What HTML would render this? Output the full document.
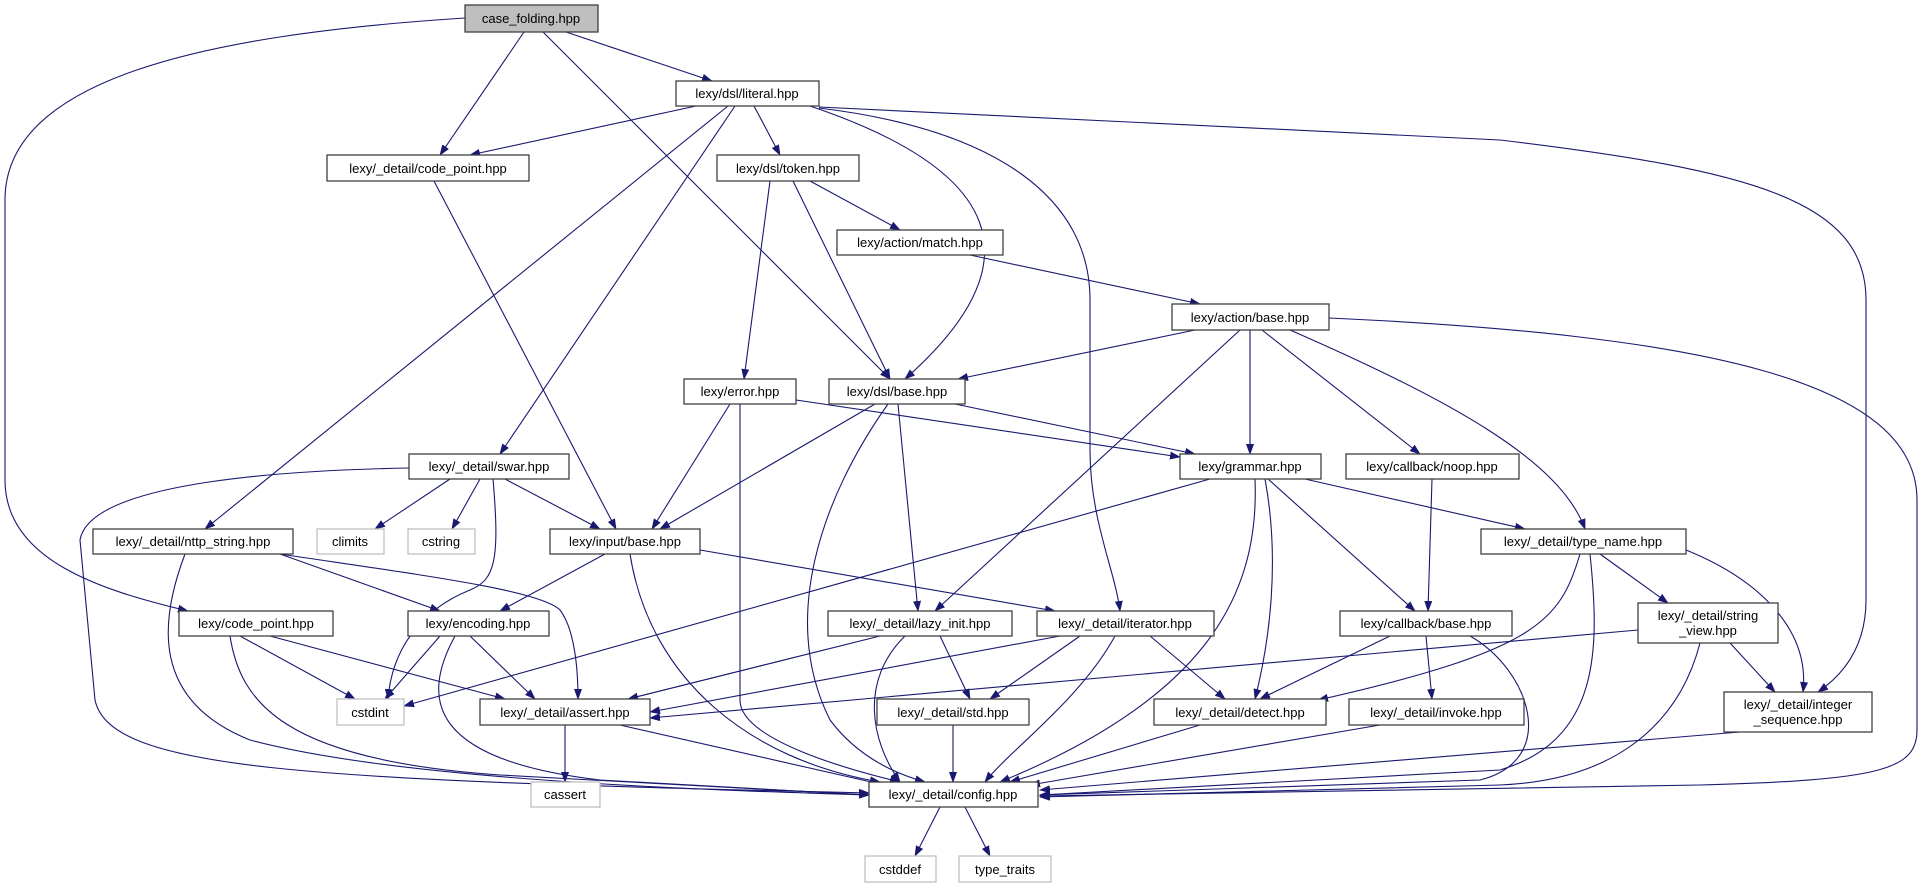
<!DOCTYPE html>
<html><head><meta charset="utf-8"><style>
html,body{margin:0;padding:0;background:#fff;}
svg{display:block;}
text{font-family:"Liberation Sans",sans-serif;font-size:13px;fill:#000;}
.n{fill:#fff;stroke:#404040;stroke-width:1.3;}
.g{fill:#fff;stroke:#bfbfbf;stroke-width:1.3;}
.e{fill:none;stroke:#191970;stroke-width:1.1;}
</style></head><body>
<svg width="1919" height="888" viewBox="0 0 1919 888" xmlns="http://www.w3.org/2000/svg">
<defs><marker id="a" markerUnits="userSpaceOnUse" markerWidth="11" markerHeight="8" refX="10" refY="4" orient="auto"><path d="M0,0 L11,4 L0,8 z" fill="#191970"/></marker></defs>
<g class="e" marker-end="url(#a)">
<path d="M465,18 C200,35 5,80 5,200 L5,480 C5,560 100,590 188,611"/>
<path d="M524,32 L440,155"/>
<path d="M543,32 L890,379"/>
<path d="M566,32 L712,81"/>
<path d="M696,106 L470,155"/>
<path d="M728,106 L205,529"/>
<path d="M735,106 L500,454"/>
<path d="M754,106 L780,155"/>
<path d="M810,106 C1000,170 1040,260 905,379"/>
<path d="M819,108 C1000,130 1090,200 1090,300 L1090,450 C1090,520 1115,570 1120,611"/>
<path d="M819,107 L1500,140 C1750,170 1866,200 1866,300 L1866,600 C1866,640 1850,670 1818,692"/>
<path d="M770,181 L744,379"/>
<path d="M793,181 L890,379"/>
<path d="M810,181 L900,230"/>
<path d="M970,255 L1200,304"/>
<path d="M1195,330 L958,379"/>
<path d="M1250,330 L1250,454"/>
<path d="M1240,330 L935,611"/>
<path d="M1262,330 L1420,454"/>
<path d="M1290,330 C1450,400 1560,460 1585,529"/>
<path d="M1329,318 C1700,335 1917,380 1917,500 L1917,730 C1917,770 1880,780 1700,785 L1040,796"/>
<path d="M730,404 L652,529"/>
<path d="M796,400 L1180,457"/>
<path d="M740,404 L740,700 C740,740 850,770 900,782"/>
<path d="M955,404 L1195,454"/>
<path d="M875,404 L660,529"/>
<path d="M898,404 L918,611"/>
<path d="M888,404 C820,500 780,620 830,720 C860,760 900,775 925,782"/>
<path d="M450,479 L375,529"/>
<path d="M480,479 L452,529"/>
<path d="M505,479 L600,529"/>
<path d="M493,479 C500,560 495,580 470,590 C420,610 392,650 388,699"/>
<path d="M409,468 C300,470 90,480 80,540 L95,700 C110,770 300,780 869,793"/>
<path d="M1210,479 L404,706"/>
<path d="M1255,479 C1260,600 1200,700 1000,782"/>
<path d="M1265,479 C1280,560 1270,640 1255,699"/>
<path d="M1268,479 L1415,611"/>
<path d="M1305,479 L1525,529"/>
<path d="M1432,479 L1428,611"/>
<path d="M280,554 L440,611"/>
<path d="M280,554 C420,575 540,590 560,610 C575,630 578,670 578,699"/>
<path d="M185,554 C160,620 150,700 250,740 C400,780 700,790 869,795"/>
<path d="M605,554 L500,611"/>
<path d="M700,550 L1055,611"/>
<path d="M630,554 C650,680 750,760 880,782"/>
<path d="M1580,554 C1560,620 1540,650 1318,700"/>
<path d="M1590,554 C1600,650 1600,740 1500,770 L1040,795"/>
<path d="M1600,554 L1668,603"/>
<path d="M1686,550 C1760,580 1810,630 1803,692"/>
<path d="M240,636 L355,699"/>
<path d="M270,636 L505,699"/>
<path d="M230,636 C240,700 280,760 500,775 L869,795"/>
<path d="M440,636 L385,699"/>
<path d="M470,636 L535,699"/>
<path d="M455,636 C420,700 430,760 600,780 L869,795"/>
<path d="M880,636 L628,699"/>
<path d="M940,636 L970,699"/>
<path d="M905,636 C860,680 870,740 900,782"/>
<path d="M1060,636 L650,712"/>
<path d="M1080,636 L990,699"/>
<path d="M1150,636 L1225,699"/>
<path d="M1115,636 C1080,700 1010,750 985,782"/>
<path d="M1390,636 L1260,699"/>
<path d="M1426,636 L1432,699"/>
<path d="M1470,636 C1530,670 1560,760 1480,780 L1040,795"/>
<path d="M1638,630 L650,718"/>
<path d="M1700,643 C1680,720 1620,780 1500,785 L1040,797"/>
<path d="M1730,643 L1775,692"/>
<path d="M565,725 L565,782"/>
<path d="M620,725 L880,784"/>
<path d="M953,725 L953,782"/>
<path d="M1200,725 L1010,782"/>
<path d="M1380,725 L1030,785"/>
<path d="M1740,732 L1040,790"/>
<path d="M940,807 L915,856"/>
<path d="M965,807 L990,856"/>
<path d="M434,181 L616,529"/>
</g>
<rect x="465" y="5" width="133" height="27" fill="#bfbfbf" stroke="#404040" stroke-width="1.3"/><text x="531" y="23" text-anchor="middle">case_folding.hpp</text>
<rect class="n" x="676" y="81" width="143" height="25"/><text x="747" y="98" text-anchor="middle">lexy/dsl/literal.hpp</text>
<rect class="n" x="327" y="155" width="202" height="26"/><text x="428" y="173" text-anchor="middle">lexy/_detail/code_point.hpp</text>
<rect class="n" x="717" y="155" width="142" height="26"/><text x="788" y="173" text-anchor="middle">lexy/dsl/token.hpp</text>
<rect class="n" x="837" y="230" width="166" height="25"/><text x="920" y="247" text-anchor="middle">lexy/action/match.hpp</text>
<rect class="n" x="1172" y="304" width="157" height="26"/><text x="1250" y="322" text-anchor="middle">lexy/action/base.hpp</text>
<rect class="n" x="684" y="379" width="112" height="25"/><text x="740" y="396" text-anchor="middle">lexy/error.hpp</text>
<rect class="n" x="829" y="379" width="136" height="25"/><text x="897" y="396" text-anchor="middle">lexy/dsl/base.hpp</text>
<rect class="n" x="409" y="454" width="160" height="25"/><text x="489" y="471" text-anchor="middle">lexy/_detail/swar.hpp</text>
<rect class="n" x="1180" y="454" width="141" height="25"/><text x="1250" y="471" text-anchor="middle">lexy/grammar.hpp</text>
<rect class="n" x="1346" y="454" width="173" height="25"/><text x="1432" y="471" text-anchor="middle">lexy/callback/noop.hpp</text>
<rect class="n" x="93" y="529" width="200" height="25"/><text x="193" y="546" text-anchor="middle">lexy/_detail/nttp_string.hpp</text>
<rect class="g" x="317" y="529" width="67" height="25"/><text x="350" y="546" text-anchor="middle">climits</text>
<rect class="g" x="408" y="529" width="67" height="25"/><text x="441" y="546" text-anchor="middle">cstring</text>
<rect class="n" x="550" y="529" width="150" height="25"/><text x="625" y="546" text-anchor="middle">lexy/input/base.hpp</text>
<rect class="n" x="1481" y="529" width="205" height="25"/><text x="1583" y="546" text-anchor="middle">lexy/_detail/type_name.hpp</text>
<rect class="n" x="179" y="611" width="154" height="25"/><text x="256" y="628" text-anchor="middle">lexy/code_point.hpp</text>
<rect class="n" x="408" y="611" width="141" height="25"/><text x="478" y="628" text-anchor="middle">lexy/encoding.hpp</text>
<rect class="n" x="828" y="611" width="184" height="25"/><text x="920" y="628" text-anchor="middle">lexy/_detail/lazy_init.hpp</text>
<rect class="n" x="1037" y="611" width="177" height="25"/><text x="1125" y="628" text-anchor="middle">lexy/_detail/iterator.hpp</text>
<rect class="n" x="1340" y="611" width="172" height="25"/><text x="1426" y="628" text-anchor="middle">lexy/callback/base.hpp</text>
<rect class="n" x="1638" y="603" width="140" height="40"/><text x="1708" y="620" text-anchor="middle">lexy/_detail/string</text><text x="1708" y="635" text-anchor="middle">_view.hpp</text>
<rect class="g" x="337" y="699" width="67" height="26"/><text x="370" y="717" text-anchor="middle">cstdint</text>
<rect class="n" x="480" y="699" width="170" height="26"/><text x="565" y="717" text-anchor="middle">lexy/_detail/assert.hpp</text>
<rect class="n" x="877" y="699" width="152" height="26"/><text x="953" y="717" text-anchor="middle">lexy/_detail/std.hpp</text>
<rect class="n" x="1154" y="699" width="172" height="26"/><text x="1240" y="717" text-anchor="middle">lexy/_detail/detect.hpp</text>
<rect class="n" x="1349" y="699" width="175" height="26"/><text x="1436" y="717" text-anchor="middle">lexy/_detail/invoke.hpp</text>
<rect class="n" x="1724" y="692" width="148" height="40"/><text x="1798" y="709" text-anchor="middle">lexy/_detail/integer</text><text x="1798" y="724" text-anchor="middle">_sequence.hpp</text>
<rect class="g" x="531" y="782" width="69" height="25"/><text x="565" y="799" text-anchor="middle">cassert</text>
<rect class="n" x="869" y="782" width="169" height="25"/><text x="953" y="799" text-anchor="middle">lexy/_detail/config.hpp</text>
<rect class="g" x="865" y="856" width="71" height="26"/><text x="900" y="874" text-anchor="middle">cstddef</text>
<rect class="g" x="959" y="856" width="92" height="26"/><text x="1005" y="874" text-anchor="middle">type_traits</text>
</svg>
</body></html>
